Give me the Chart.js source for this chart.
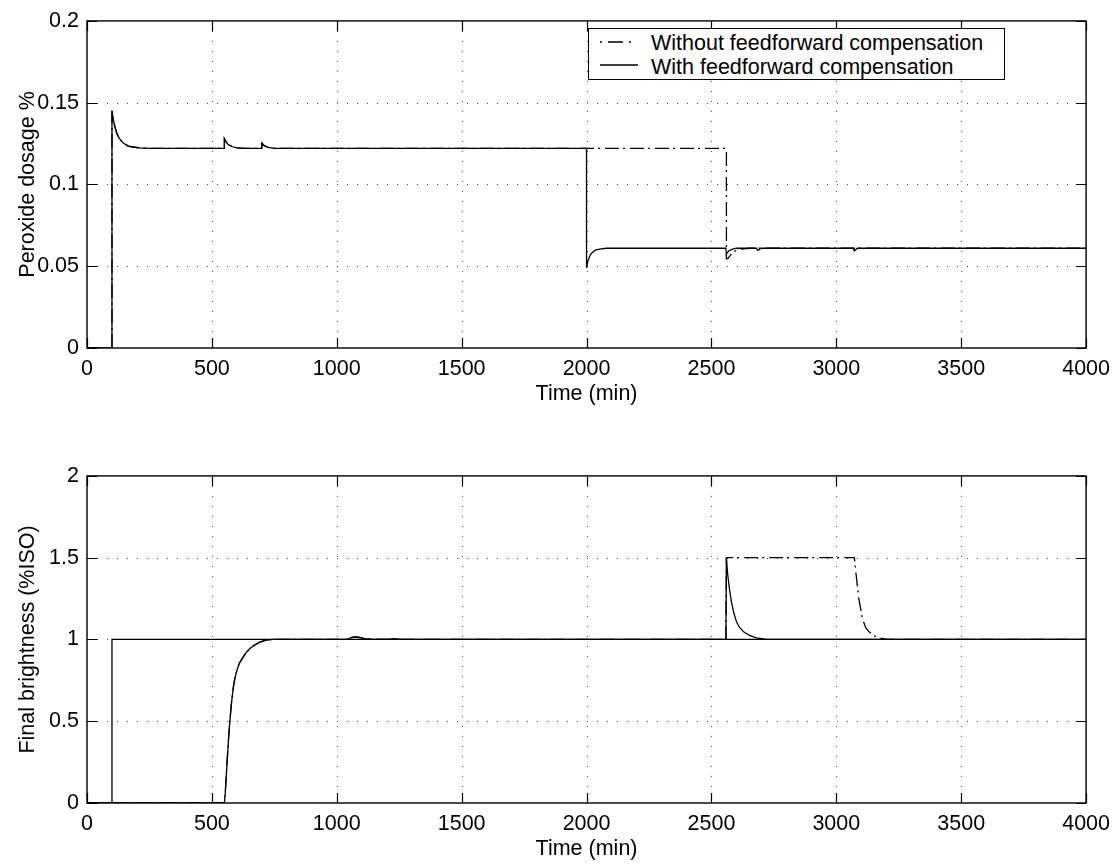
<!DOCTYPE html>
<html>
<head>
<meta charset="utf-8">
<script src="https://cdn.jsdelivr.net/npm/chart.js@4"></script>
<style>
html,body{margin:0;padding:0;background:#fff;width:1118px;height:865px;overflow:hidden;}
.wrap{position:absolute;left:0;width:1118px;height:410px;}
#w1{top:0;}
#w2{top:455px;}
#legend{position:absolute;left:588px;top:28px;width:417px;height:52px;border:1px solid #000;background:#fff;box-sizing:border-box;
  font-family:"Liberation Sans",Arial,Helvetica,sans-serif;font-size:21.5px;color:#000;}
#legend .txt{position:absolute;left:62px;line-height:24px;white-space:nowrap;}
#legend svg{position:absolute;left:11px;}
</style>
</head>
<body>
<div class="wrap" id="w1"><canvas id="c1"></canvas></div>
<div class="wrap" id="w2"><canvas id="c2"></canvas></div>
<div id="legend">
  <svg style="top:7.5px" width="40" height="10"><line x1="0" y1="5" x2="38" y2="5" stroke="#000" stroke-width="1.3" stroke-dasharray="2,6,15,6,2,20"/></svg>
  <div class="txt" style="top:2px">Without feedforward compensation</div>
  <svg style="top:31px" width="40" height="10"><line x1="0" y1="5" x2="38" y2="5" stroke="#000" stroke-width="1.3"/></svg>
  <div class="txt" style="top:26px">With feedforward compensation</div>
</div>
<script>
// ---------- data ----------
const xTicks = [0,500,1000,1500,2000,2500,3000,3500,4000];
const xTickLabels = ['0','500','1000','1500','2000','2500','3000','3500','4000'];
const yTopTicks = [0,0.05,0.1,0.15,0.2];
const yTopTickLabels = ['0','0.05','0.1','0.15','0.2'];
const yBotTicks = [0,0.5,1,1.5,2];
const yBotTickLabels = ['0','0.5','1','1.5','2'];

const seriesNames = ['Without feedforward compensation','With feedforward compensation'];

// Top: Peroxide dosage %
const tTopNoFF = [0,100,100,105,112,120,130,145,165,185,210,250,550,550,555,565,580,600,630,700,700,710,725,750,2560,2560,2566,2575,2585,2600,2620,2650,2700,4000];
const vTopNoFF = [0,0,0.145,0.140,0.135,0.131,0.128,0.1253,0.1235,0.1229,0.1224,0.122,0.122,0.1279,0.1265,0.1245,0.1232,0.1224,0.122,0.122,0.1253,0.1237,0.1226,0.122,0.122,0.0545,0.0548,0.0565,0.0585,0.0597,0.0605,0.061,0.061,0.061];
const tTopFF = [0,100,100,105,112,120,130,145,165,185,210,250,550,550,555,565,580,600,630,700,700,710,725,750,2000,2000,2005,2012,2020,2035,2052,2080,2150,2558,2560,2570,2585,2600,2640,2680,2686,2700,3068,3072,3085,4000];
const vTopFF = [0,0,0.145,0.140,0.135,0.131,0.128,0.1253,0.1235,0.1229,0.1224,0.122,0.122,0.1279,0.1265,0.1245,0.1232,0.1224,0.122,0.122,0.1253,0.1237,0.1226,0.122,0.122,0.049,0.053,0.056,0.058,0.0598,0.0605,0.061,0.061,0.061,0.0575,0.0595,0.0605,0.061,0.061,0.061,0.0597,0.061,0.061,0.0594,0.061,0.061];

// Bottom: Final brightness (%ISO)
const tBotRef = [0,100,100,4000];
const vBotRef = [0,0,1,1];
const tBotFF = [0,550,553,557,562,567,572,577,582,587,592,600,610,620,635,652,670,690,710,740,1040,1060,1075,1090,1110,1140,1200,1230,1260,2558,2560,2565,2572,2580,2590,2600,2612,2630,2652,2680,2720,4000];
const vBotFF = [0,0,0.05,0.15,0.28,0.40,0.50,0.59,0.66,0.72,0.76,0.81,0.855,0.88,0.915,0.945,0.965,0.982,0.993,1,1,1.012,1.016,1.012,1.005,1.002,1.0,1.005,1.0,1.0,1.5,1.40,1.31,1.23,1.16,1.11,1.075,1.045,1.025,1.01,1.0,1.0];
const tBotNoFF = [0,550,553,557,562,567,572,577,582,587,592,600,610,620,635,652,670,690,710,740,1040,1060,1075,1090,1110,1140,1200,1230,1260,2558,2560,3072,3079,3090,3105,3118,3132,3159,3200,4000];
const vBotNoFF = [0,0,0.05,0.15,0.28,0.40,0.50,0.59,0.66,0.72,0.76,0.81,0.855,0.88,0.915,0.945,0.965,0.982,0.993,1,1,1.012,1.016,1.012,1.005,1.002,1.0,1.005,1.0,1.0,1.5,1.5,1.40,1.25,1.125,1.07,1.045,1.015,1.0,1.0];

// ---------- helpers ----------
const pts = (t,v) => t.map((x,i)=>({x:x,y:v[i]}));
const FONT = '"Liberation Sans", Arial, Helvetica, sans-serif';
Chart.defaults.font.family = FONT;
Chart.defaults.font.size = 21.5;
Chart.defaults.color = '#000';

const DASHDOT = [14,4,2,5];

const frame = {
  id:'frame',
  beforeDatasetsDraw(chart){
    const {ctx, chartArea:a, scales:{x,y}} = chart;
    ctx.save();
    ctx.strokeStyle = '#444'; ctx.lineWidth = 1; ctx.setLineDash([1,9]);
    x.ticks.forEach(t=>{
      if (t.value<=x.min || t.value>=x.max) return;
      const px = Math.round(x.getPixelForValue(t.value))+0.5;
      ctx.beginPath(); ctx.moveTo(px,a.top); ctx.lineTo(px,a.bottom); ctx.stroke();
    });
    y.ticks.forEach(t=>{
      if (t.value<=y.min || t.value>=y.max) return;
      const py = Math.round(y.getPixelForValue(t.value))+0.5;
      ctx.beginPath(); ctx.moveTo(a.left,py); ctx.lineTo(a.right,py); ctx.stroke();
    });
    ctx.restore();
  },
  afterDatasetsDraw(chart){
    const {ctx, chartArea:a, scales:{x,y}} = chart;
    ctx.save();
    ctx.setLineDash([]);
    ctx.strokeStyle = '#000'; ctx.lineWidth = 1.4;
    ctx.strokeRect(a.left, a.top, a.right-a.left, a.bottom-a.top);
    const L = 10;
    ctx.lineWidth = 1.2;
    x.ticks.forEach(t=>{
      const px = Math.round(x.getPixelForValue(t.value))+0.5;
      ctx.beginPath();
      ctx.moveTo(px,a.bottom); ctx.lineTo(px,a.bottom-L);
      ctx.moveTo(px,a.top); ctx.lineTo(px,a.top+L);
      ctx.stroke();
    });
    y.ticks.forEach(t=>{
      const py = Math.round(y.getPixelForValue(t.value))+0.5;
      ctx.beginPath();
      ctx.moveTo(a.left,py); ctx.lineTo(a.left+L,py);
      ctx.moveTo(a.right,py); ctx.lineTo(a.right-L,py);
      ctx.stroke();
    });
    ctx.restore();
  }
};

function makeOptions(yTicks, yLabels, yTitle){
  return {
    responsive:true, maintainAspectRatio:false, animation:false,
    devicePixelRatio:1,
    layout:{padding:{top:16,right:31,left:0,bottom:0}},
    plugins:{legend:{display:false}, tooltip:{enabled:false}},
    elements:{point:{radius:0}, line:{tension:0, borderWidth:1.3, borderColor:'#000'}},
    scales:{
      x:{
        type:'linear', min:0, max:4000,
        grid:{display:false, drawTicks:false},
        border:{display:false},
        afterFit:(s)=>{ s.height = 62; },
        afterBuildTicks:(s)=>{ s.ticks = xTicks.map(v=>({value:v})); },
        ticks:{padding:8, autoSkip:false, maxRotation:0, callback:(v)=>{const i=xTicks.indexOf(v); return i>=0?xTickLabels[i]:'';}},
        title:{display:true, text:'Time (min)', padding:{top:0,bottom:3}, font:{size:21.5}}
      },
      y:{
        type:'linear', min:yTicks[0], max:yTicks[yTicks.length-1],
        grid:{display:false, drawTicks:false},
        border:{display:false},
        afterFit:(s)=>{ s.width = 87; },
        afterBuildTicks:(s)=>{ s.ticks = yTicks.map(v=>({value:v})); },
        ticks:{padding:8, autoSkip:false, callback:(v)=>{const i=yTicks.indexOf(v); return i>=0?yLabels[i]:'';}},
        title:{display:true, text:yTitle, padding:{top:15,bottom:0}, font:{size:21.5}}
      }
    }
  };
}

new Chart(document.getElementById('c1'), {
  type:'line',
  data:{datasets:[
    {label:seriesNames[0], data:pts(tTopNoFF,vTopNoFF), borderColor:'#000', borderWidth:1.3, borderDash:DASHDOT, fill:false},
    {label:seriesNames[1], data:pts(tTopFF,vTopFF), borderColor:'#000', borderWidth:1.3, fill:false}
  ]},
  options:makeOptions(yTopTicks, yTopTickLabels, 'Peroxide dosage %'),
  plugins:[frame]
});

new Chart(document.getElementById('c2'), {
  type:'line',
  data:{datasets:[
    {label:seriesNames[0], data:pts(tBotNoFF,vBotNoFF), borderColor:'#000', borderWidth:1.3, borderDash:DASHDOT, fill:false},
    {label:seriesNames[1], data:pts(tBotFF,vBotFF), borderColor:'#000', borderWidth:1.3, fill:false},
    {label:'reference', data:pts(tBotRef,vBotRef), borderColor:'#000', borderWidth:1.3, fill:false}
  ]},
  options:makeOptions(yBotTicks, yBotTickLabels, 'Final brightness (%ISO)'),
  plugins:[frame]
});
</script>
</body>
</html>
